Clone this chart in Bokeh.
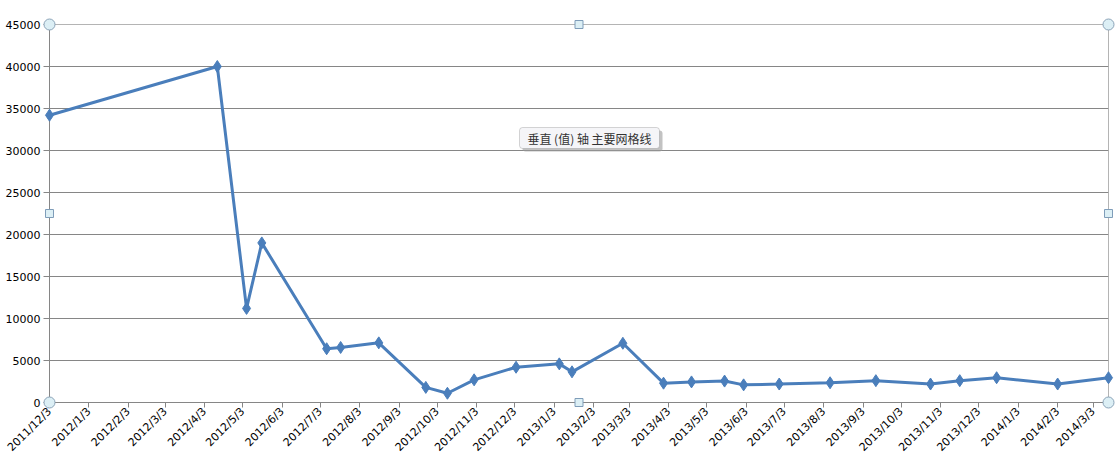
import calendar
from datetime import datetime
from bokeh.plotting import figure
from bokeh.models import (Range1d, FixedTicker, CustomJSTickFormatter, Label,
                          BoxAnnotation)
from bokeh.embed import file_html
from bokeh.resources import INLINE

# ---- data ----
dates = ["2011/12/3", "2012/4/13", "2012/5/6", "2012/5/18", "2012/7/8",
         "2012/7/19", "2012/8/18", "2012/9/24", "2012/10/11", "2012/11/1",
         "2012/12/4", "2013/1/7", "2013/1/17", "2013/2/26", "2013/3/30",
         "2013/4/21", "2013/5/17", "2013/6/1", "2013/6/29", "2013/8/8",
         "2013/9/13", "2013/10/26", "2013/11/18", "2013/12/17", "2014/2/3",
         "2014/3/15"]
values = [34200, 40000, 11200, 19000, 6400,
          6550, 7100, 1800, 1100, 2700,
          4200, 4600, 3650, 7050, 2300,
          2450, 2550, 2100, 2200, 2350,
          2600, 2200, 2600, 2950, 2200,
          2950]
x_tick_labels = ["2011/12/3", "2012/1/3", "2012/2/3", "2012/3/3", "2012/4/3",
                 "2012/5/3", "2012/6/3", "2012/7/3", "2012/8/3", "2012/9/3",
                 "2012/10/3", "2012/11/3", "2012/12/3", "2013/1/3", "2013/2/3",
                 "2013/3/3", "2013/4/3", "2013/5/3", "2013/6/3", "2013/7/3",
                 "2013/8/3", "2013/9/3", "2013/10/3", "2013/11/3", "2013/12/3",
                 "2014/1/3", "2014/2/3", "2014/3/3"]
y_ticks = [0, 5000, 10000, 15000, 20000, 25000, 30000, 35000, 40000, 45000]
title_text = "AH"
tooltip_text = "垂直 (值) 轴 主要网格线"


def to_dt(s):
    y, m, d = (int(v) for v in s.split("/"))
    return datetime(y, m, d)


def to_ms(s):
    return calendar.timegm(to_dt(s).timetuple()) * 1000.0


xs = [to_dt(s) for s in dates]
tick_ms = [to_ms(s) for s in x_tick_labels]

W, H = 1118, 464
LEFT, RIGHT, TOP, BOTTOM = 49, 1108, 24, 402

p = figure(width=W, height=H, output_backend="svg", toolbar_location=None,
           x_axis_type="datetime",
           x_range=Range1d(start=xs[0], end=xs[-1]),
           y_range=Range1d(start=y_ticks[0], end=y_ticks[-1]),
           min_border_left=LEFT, min_border_right=W - RIGHT,
           min_border_top=TOP, min_border_bottom=H - BOTTOM,
           background_fill_color="white", border_fill_color="white")
p.outline_line_color = "#B4B4B4"

grid_col = "#868686"
p.xgrid.visible = False
p.ygrid.grid_line_color = grid_col
p.ygrid.ticker = FixedTicker(ticks=y_ticks)

p.yaxis.ticker = FixedTicker(ticks=y_ticks)
p.yaxis.axis_line_color = grid_col
p.yaxis.major_tick_line_color = grid_col
p.yaxis.major_tick_out = 6
p.yaxis.major_tick_in = 0
p.yaxis.minor_tick_line_color = None
p.yaxis.major_label_standoff = 3
p.yaxis.major_label_text_font = "DejaVu Sans"
p.yaxis.major_label_text_font_size = "11px"
p.yaxis.major_label_text_color = "black"

p.xaxis.ticker = FixedTicker(ticks=tick_ms)
p.xaxis.formatter = CustomJSTickFormatter(
    args=dict(lbls=x_tick_labels, tks=tick_ms),
    code="""
    for (let i = 0; i < tks.length; i++) {
        if (Math.abs(tks[i] - tick) < 1000) return lbls[i];
    }
    return "";
""")
p.xaxis.axis_line_color = grid_col
p.xaxis.major_tick_line_color = grid_col
p.xaxis.major_tick_out = 5
p.xaxis.major_tick_in = 0
p.xaxis.minor_tick_line_color = None
p.xaxis.major_label_orientation = 0.785398
p.xaxis.major_label_standoff = 2
p.xaxis.major_label_text_font = "DejaVu Sans"
p.xaxis.major_label_text_font_size = "11px"
p.xaxis.major_label_text_color = "black"

line_col = "#4A7EBB"
p.line(xs, values, line_color=line_col, line_width=3)
p.scatter(xs, values, marker="diamond", size=12, fill_color=line_col,
          line_color=line_col, line_width=1, level="overlay")

# selection handles of the plot area
x0, x1 = xs[0], xs[-1]
xm = x0 + (x1 - x0) / 2
y0, y1 = y_ticks[0], y_ticks[-1]
ym = (y0 + y1) / 2
p.scatter([x0, x0, x1, x1], [y0, y1, y0, y1], marker="circle", size=11,
          fill_color="#DCEFF5", line_color="#8BA3B8", line_width=1,
          level="overlay")
p.scatter([xm, xm, x0, x1], [y0, y1, ym, ym], marker="square", size=8,
          fill_color="#DCEFF5", line_color="#7F9DB9", line_width=1,
          level="overlay")

# tooltip (frame-relative screen units, y from frame bottom)
bx0, bx1 = 519 - LEFT, 659 - LEFT
by_top, by_bot = BOTTOM - 127, BOTTOM - 148
p.add_layout(BoxAnnotation(left=bx0 + 3, right=bx1 + 3, top=by_top - 3,
                           bottom=by_bot - 3, left_units="screen",
                           right_units="screen", top_units="screen",
                           bottom_units="screen", fill_color="#9A9A9A",
                           fill_alpha=0.6, line_color=None,
                           border_radius=3, level="overlay"))
p.add_layout(BoxAnnotation(left=bx0, right=bx1, top=by_top, bottom=by_bot,
                           left_units="screen", right_units="screen",
                           top_units="screen", bottom_units="screen",
                           fill_color="#F5F5F8", fill_alpha=1.0,
                           line_color="#767676", line_width=1,
                           border_radius=3, level="overlay"))
p.add_layout(Label(x=(bx0 + bx1) / 2, y=(by_top + by_bot) / 2,
                   x_units="screen", y_units="screen", text=tooltip_text,
                   text_align="center", text_baseline="middle",
                   text_font="Noto Sans CJK SC", text_font_size="12px",
                   text_color="#333333", level="overlay"))

# title, mostly cut off at the top (as in the reference)
p.add_layout(Label(x=594 - LEFT, y=BOTTOM - 5, x_units="screen",
                   y_units="screen", text=title_text, text_align="center",
                   text_baseline="alphabetic", text_font="DejaVu Sans",
                   text_font_style="bold", text_font_size="20px",
                   text_color="#0D0D0D"))

open("out.html", "w").write(file_html(p, INLINE))
